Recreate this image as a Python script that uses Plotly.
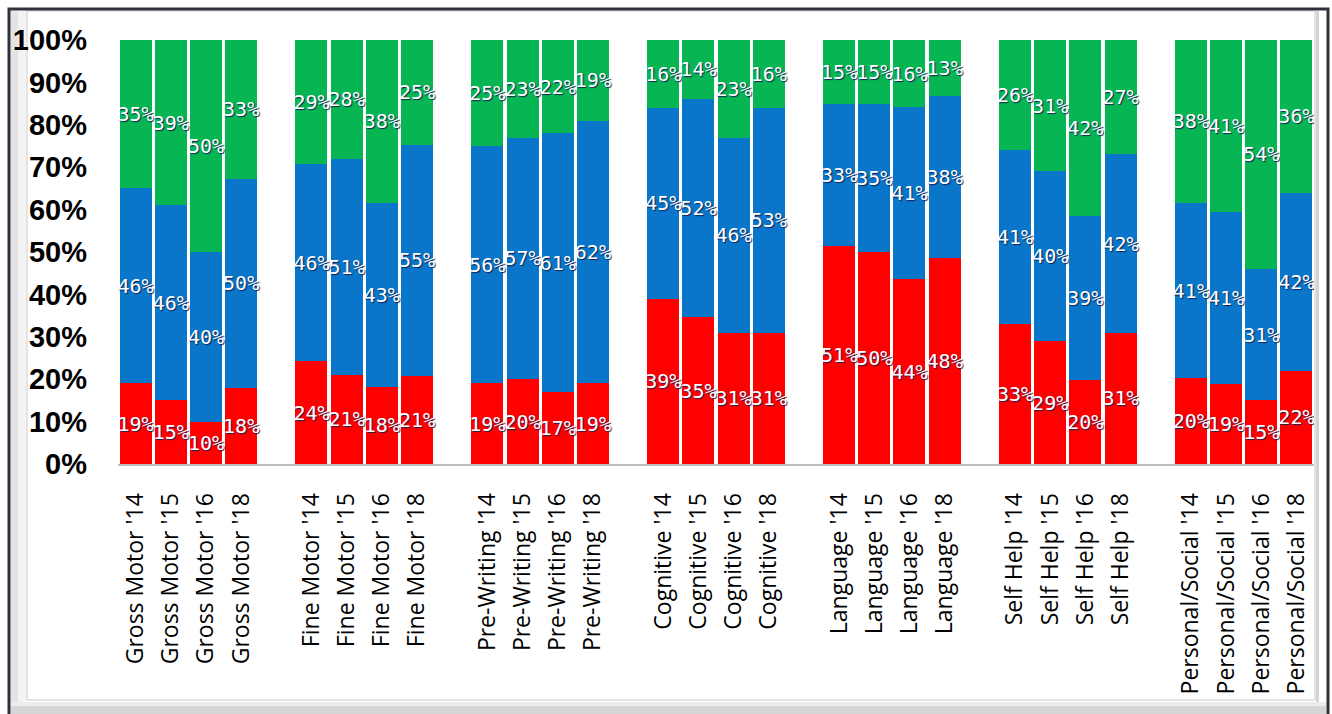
import plotly.graph_objects as go

# Skill areas and survey years
areas = ["Gross Motor", "Fine Motor", "Pre-Writing", "Cognitive",
         "Language", "Self Help", "Personal/Social"]
years = ["'14", "'15", "'16", "'18"]

# Percent of children per level, one list per area, in year order
red_pct = [19, 15, 10, 18,   24, 21, 18, 21,   19, 20, 17, 19,   39, 35, 31, 31,
           51, 50, 44, 48,   33, 29, 20, 31,   20, 19, 15, 22]
blue_pct = [46, 46, 40, 50,  46, 51, 43, 55,   56, 57, 61, 62,   45, 52, 46, 53,
            33, 35, 41, 38,  41, 40, 39, 42,   41, 41, 31, 42]
green_pct = [35, 39, 50, 33, 29, 28, 38, 25,   25, 23, 22, 19,   16, 14, 23, 16,
             15, 15, 16, 13, 26, 31, 42, 27,   38, 41, 54, 36]

y_ticks = [0, 10, 20, 30, 40, 50, 60, 70, 80, 90, 100]

# one empty slot between areas
slots_per_area = len(years) + 1
xpos, xlab = [], []
for g, a in enumerate(areas):
    for i, yr in enumerate(years):
        xpos.append(g * slots_per_area + i)
        xlab.append(f"{a} {yr}")

W, H = 1332, 714
L, R, T, B = 118, 18, 40, 250
PW, PH = W - L - R, H - T - B


def px(x):
    return (x - L) / PW


def py(y):
    return (H - B - y) / PH


label_font = dict(family="DejaVu Sans Mono", size=20, color="white",
                  shadow="1px 1px 1px rgba(20,30,80,0.95)")

fig = go.Figure()
for vals, col in [(red_pct, "#FF0000"), (blue_pct, "#0A76C9"), (green_pct, "#07B653")]:
    fig.add_trace(go.Bar(
        x=xpos, y=vals, marker=dict(color=col, line=dict(width=0)),
        text=[f"{v}%" for v in vals], textposition="inside",
        insidetextanchor="middle", textangle=0, constraintext="none",
        textfont=label_font, hoverinfo="skip", showlegend=False,
    ))

shapes = [
    # outer dark frame
    dict(type="rect", xref="paper", yref="paper", x0=px(9), x1=px(1328),
         y0=py(720), y1=py(9), line=dict(color="#2c313a", width=3),
         fillcolor="rgba(0,0,0,0)", layer="above"),
    # left shadow band
    dict(type="rect", xref="paper", yref="paper", x0=px(11), x1=px(18),
         y0=py(712), y1=py(11), line=dict(width=0), fillcolor="#e4e4e4", layer="below"),
    dict(type="rect", xref="paper", yref="paper", x0=px(18), x1=px(26),
         y0=py(712), y1=py(11), line=dict(width=0), fillcolor="#f3f3f3", layer="below"),
    # bottom shadow band
    dict(type="rect", xref="paper", yref="paper", x0=px(11), x1=px(1326),
         y0=py(714), y1=py(706), line=dict(width=0), fillcolor="#d6d6d6", layer="below"),
    dict(type="rect", xref="paper", yref="paper", x0=px(11), x1=px(1326),
         y0=py(706), y1=py(702), line=dict(width=0), fillcolor="#ececec", layer="below"),
    # inner light border
    dict(type="rect", xref="paper", yref="paper", x0=px(27), x1=px(1315),
         y0=py(700), y1=py(11), line=dict(color="#c8c8c8", width=1),
         fillcolor="rgba(0,0,0,0)", layer="below"),
    # right gray strip
    dict(type="rect", xref="paper", yref="paper", x0=px(1316), x1=px(1319),
         y0=py(702), y1=py(11), line=dict(width=0), fillcolor="#d4d4d4", layer="below"),
]

fig.update_layout(
    width=W, height=H,
    margin=dict(l=L, r=R, t=T, b=B, pad=0),
    barmode="stack", barnorm="percent", bargap=0.09,
    paper_bgcolor="white", plot_bgcolor="white",
    shapes=shapes,
    xaxis=dict(
        range=[-0.5, xpos[-1] + 0.5], tickmode="array", tickvals=xpos, ticktext=xlab,
        tickangle=-90, tickfont=dict(family="Open Sans", size=23, color="black"),
        showgrid=False, zeroline=False, showline=True, linecolor="#bfbfbf", linewidth=2,
        ticks="", ticklabelstandoff=18, fixedrange=True,
    ),
    yaxis=dict(
        range=[0, 100], tickmode="array", tickvals=y_ticks,
        ticktext=[f"{v}%" for v in y_ticks],
        tickfont=dict(family="Liberation Sans", size=29, color="black", weight="bold"),
        showgrid=False, zeroline=False, showline=False, ticks="",
        ticklabelstandoff=30, fixedrange=True,
    ),
)

fig.write_html("out.html")
